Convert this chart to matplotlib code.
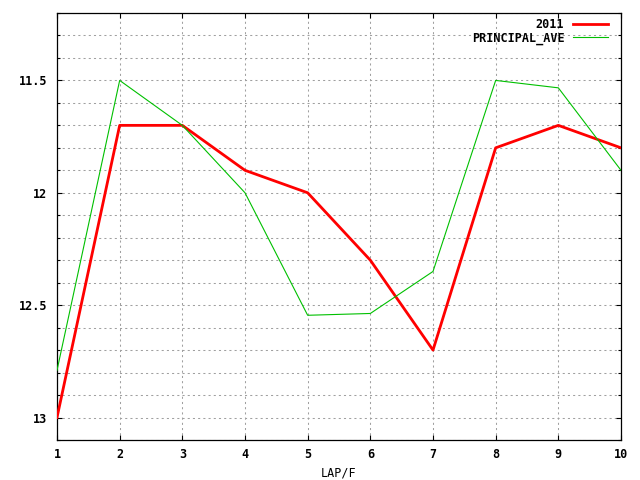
import matplotlib
matplotlib.use('Agg')
import matplotlib.pyplot as plt
from matplotlib.ticker import MultipleLocator

laps = [1, 2, 3, 4, 5, 6, 7, 8, 9, 10]
values_2011 = [13.0, 11.7, 11.7, 11.9, 12.0, 12.3, 12.7, 11.8, 11.7, 11.8]
principal_ave = [12.79, 11.5, 11.7, 12.0, 12.545, 12.537, 12.35, 11.5, 11.533, 11.9]

plt.rcParams['font.family'] = 'DejaVu Sans Mono'
plt.rcParams['font.weight'] = 'bold'
plt.rcParams['font.size'] = 8.5

fig = plt.figure(figsize=(6.4, 4.8), dpi=100)
ax = fig.add_axes([57 / 640, 1 - 440 / 480, (621 - 57) / 640, (440 - 13) / 480])

ax.plot(laps, values_2011, color='#ff0000', lw=2.0, label='2011', zorder=3)
ax.plot(laps, principal_ave, color='#00c000', lw=0.8, label='PRINCIPAL_AVE', zorder=3)

ax.set_xlim(1, 10)
ax.set_ylim(13.1, 11.2)
ax.xaxis.set_major_locator(MultipleLocator(1))
ax.yaxis.set_minor_locator(MultipleLocator(0.1))
ax.set_yticks([11.5, 12, 12.5, 13])
ax.set_yticklabels(['11.5', '12', '12.5', '13'])

ax.tick_params(which='both', direction='in', top=True, right=True, color='black')
ax.tick_params(which='major', length=3.6, width=0.8)
ax.tick_params(which='minor', length=2.2, width=0.8)
ax.tick_params(axis='x', which='major', pad=6)
ax.tick_params(axis='y', which='major', pad=7)

ax.grid(which='major', axis='x', color='#a0a0a0', linestyle=(0, (2, 3)), lw=0.75)
ax.grid(which='both', axis='y', color='#a0a0a0', linestyle=(0, (2, 3)), lw=0.75)
for s in ax.spines.values():
    s.set_linewidth(0.9)

ax.set_xlabel('LAP/F', labelpad=4)

leg = ax.legend(loc='upper right', frameon=False, markerfirst=False,
                bbox_to_anchor=(608 / 640, 1 - 18 / 480),
                bbox_transform=fig.transFigure,
                handlelength=3.0, handletextpad=0.7, borderaxespad=0,
                borderpad=0, labelspacing=0.05)
for t in leg.get_texts():
    t.set_ha('right')

fig.savefig('out.png', dpi=100)
